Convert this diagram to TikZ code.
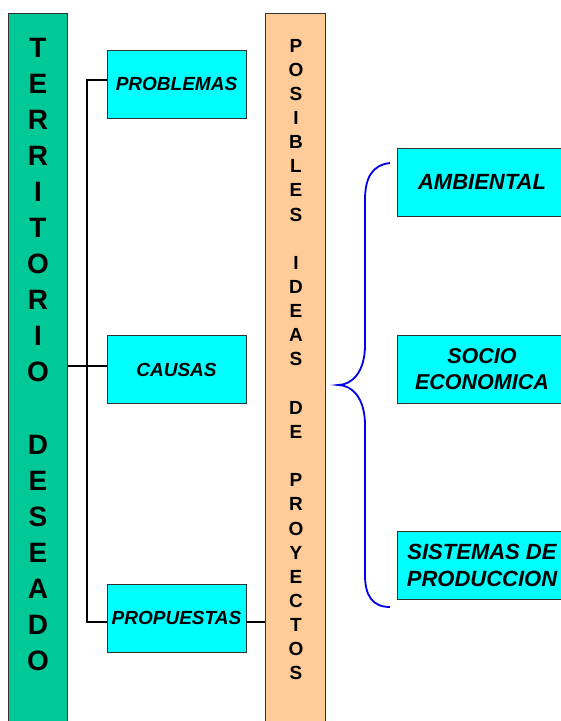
\documentclass[tikz,border=0pt]{standalone}
\usepackage{fontspec}
\setmainfont{Liberation Sans}
\definecolor{barG}{RGB}{0,200,150}
\definecolor{barO}{RGB}{255,204,153}
\definecolor{boxC}{RGB}{0,255,255}
\definecolor{edge}{RGB}{50,50,50}
\definecolor{braceB}{RGB}{0,0,235}
\begin{document}
\begin{tikzpicture}[x=1pt,y=-1pt,
  bar/.style={draw=edge, line width=0.8pt, inner sep=0pt, anchor=north west},
  lbox/.style={draw=edge, fill=boxC, line width=0.8pt, inner sep=0pt,
    minimum width=139pt, minimum height=68pt, align=center,
    font=\fontsize{19}{22}\selectfont\bfseries\itshape},
  rbox/.style={draw=edge, fill=boxC, line width=0.8pt, inner sep=0pt,
    minimum width=170pt, minimum height=68pt, align=center,
    font=\fontsize{21.5}{26}\selectfont\bfseries\itshape},
  gl/.style={anchor=base, inner sep=0pt, font=\fontsize{28}{30}\selectfont\bfseries},
  ol/.style={anchor=base, inner sep=0pt, font=\fontsize{19}{20}\selectfont\bfseries},
  conn/.style={draw=black, line width=1.4pt},
  bracepath/.style={draw=braceB, line width=1.8pt}]
\useasboundingbox (0,0) rectangle (561,721);
\fill[white] (0,0) rectangle (561,721);

% bars
\node[bar, fill=barG, minimum width=59pt, minimum height=715pt] (terr) at (8,13) {};
\node[bar, fill=barO, minimum width=60pt, minimum height=715pt] (pos) at (265,13) {};

\foreach \l [count=\i from 0] in {T,E,R,R,I,T,O,R,I,O}
  \node[gl] (ga\i) at (38,57+\i*36.1) {\l};
\foreach \l [count=\i from 11] in {D,E,S,E,A,D,O}
  \node[gl] (gb\i) at (38,57+\i*36.1) {\l};

\foreach \l [count=\i from 0] in {P,O,S,I,B,L,E,S}
  \node[ol] (oa\i) at (296,52+\i*24.15) {\l};
\foreach \l [count=\i from 9] in {I,D,E,A,S}
  \node[ol] (ob\i) at (296,52+\i*24.15) {\l};
\foreach \l [count=\i from 15] in {D,E}
  \node[ol] (oc\i) at (296,52+\i*24.15) {\l};
\foreach \l [count=\i from 18] in {P,R,O,Y,E,C,T,O,S}
  \node[ol] (od\i) at (296,52+\i*24.15) {\l};

% left boxes
\node[lbox] (prob) at (176.5,84) {PROBLEMAS};
\node[lbox] (caus) at (176.5,369.5) {CAUSAS};
\node[lbox] (prop) at (176.5,618) {PROPUESTAS};

% right boxes
\node[rbox, font=\fontsize{22}{26}\selectfont\bfseries\itshape] (amb) at (482,182) {AMBIENTAL};
\node[rbox] (soc) at (482,369.5) {SOCIO\\ECONOMICA};
\node[rbox, font=\fontsize{22}{27}\selectfont\bfseries\itshape] (sis) at (482,565.5) {SISTEMAS DE\\PRODUCCION};

% connectors
\coordinate (jt) at (87,80);
\coordinate (jc) at (87,366);
\coordinate (jb) at (87,622);
\draw[conn] (jt -| prob.west) -- (jt) -- (jb) -- (jb -| prop.west);
\draw[conn] (jc -| terr.east) -- (jc -| caus.west);
\draw[conn] (jb -| prop.east) -- (jb -| pos.west);

% brace
\coordinate (bt) at (390,163);
\coordinate (bm) at (338,385);
\coordinate (bb) at (390,607);
\draw[bracepath] (bt) .. controls (372,165) and (365,178) .. (365,200)
  -- (365,345) .. controls (365,372) and (352,385) .. (bm)
  .. controls (352,385) and (365,398) .. (365,425)
  -- (365,575) .. controls (365,595) and (372,607) .. (bb);
\end{tikzpicture}
\end{document}
